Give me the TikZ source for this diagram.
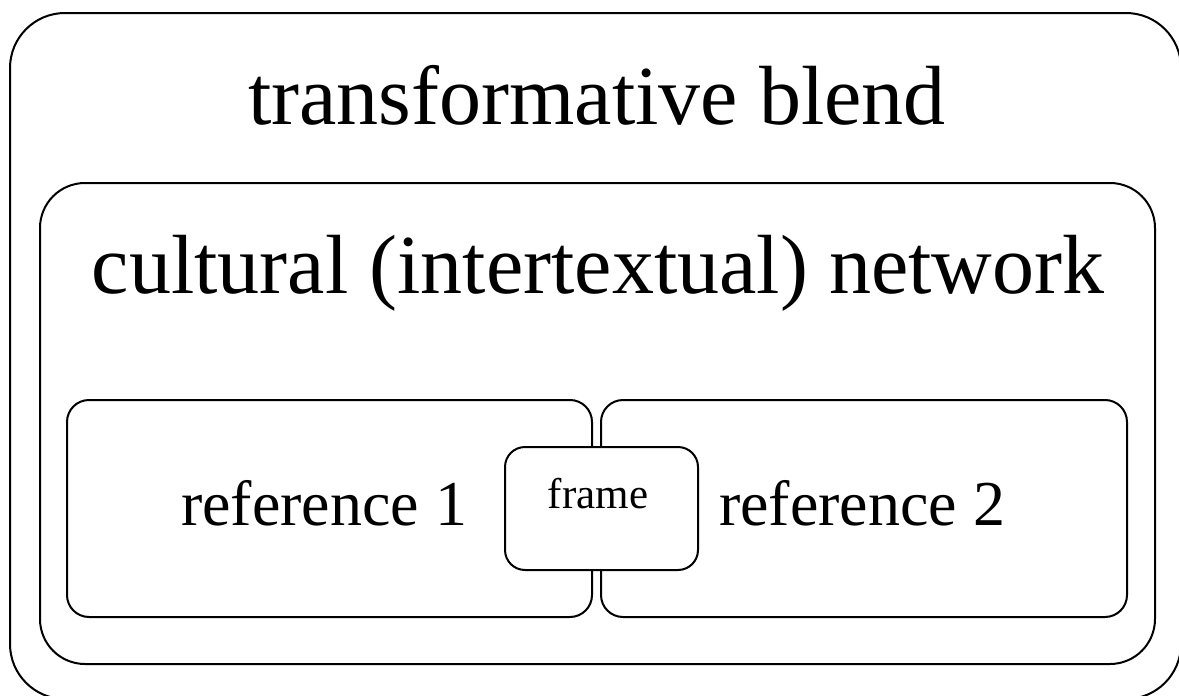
\documentclass[tikz,border=0pt]{standalone}
\usepackage{fontspec}
\setmainfont{Liberation Serif}
\usetikzlibrary{positioning}

\tikzset{
  box/.style={draw, line width=2pt, fill=white, inner sep=0pt},
  title/.style={anchor=base, inner sep=0pt, font=\fontsize{84}{84}\selectfont},
  label/.style={anchor=base, inner sep=0pt, font=\fontsize{64}{64}\selectfont},
}

\begin{document}
\begin{tikzpicture}[x=1pt, y=-1pt]
  \useasboundingbox (0,0) rectangle (1179,696);
  \coordinate (B) at (595.5,356);
  \coordinate (N) at (597.5,423.5);
  \coordinate (R1) at (329.5,508.5);
  \coordinate (R2) at (864,508.5);
  \coordinate (F) at (601.5,508.5);
  \node[box, rounded corners=55pt, minimum width=1171pt, minimum height=686pt] (blend) at (B) {};
  \node[box, rounded corners=45pt, minimum width=1115pt, minimum height=481pt] (network) at (N) {};
  \node[box, rounded corners=22pt, minimum width=525pt, minimum height=217pt] (ref1) at (R1) {};
  \node[box, rounded corners=22pt, minimum width=526pt, minimum height=217pt] (ref2) at (R2) {};
  \node[box, rounded corners=20pt, minimum width=193pt, minimum height=123pt] (frame) at (F) {};
  \node[title] (blendtext) at (597,124) {transformative blend};
  \node[title] (networktext) at (598,293) {cultural (intertextual) network};
  \node[label] (ref1text) at (324,525) {reference 1};
  \node[label] (ref2text) at (862,525) {reference 2};
  \node[anchor=base, inner sep=0pt, font=\fontsize{43}{43}\selectfont] (frametext) at (598,508) {frame};
\end{tikzpicture}
\end{document}
